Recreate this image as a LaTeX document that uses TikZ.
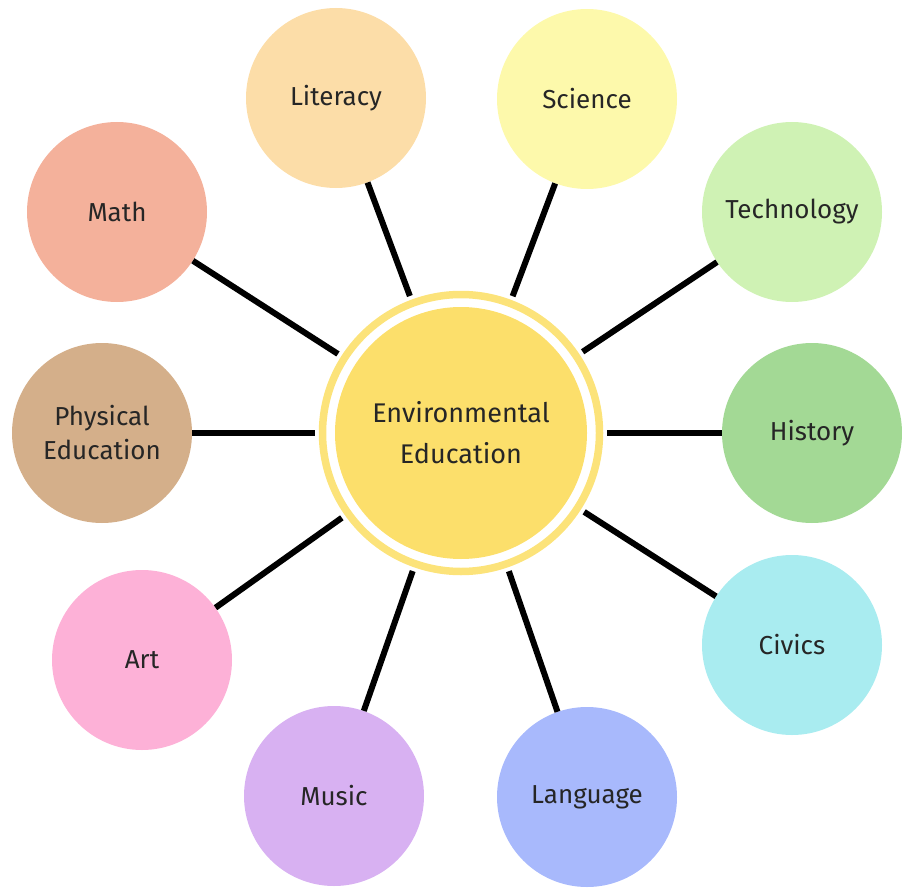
\documentclass[tikz,border=0pt]{standalone}
\usepackage{fontspec}
\setmainfont{Fira Sans}
\usepackage{xcolor}
\definecolor{eecol}{HTML}{FCDF6B}
\definecolor{ringcol}{HTML}{FCE37A}
\definecolor{litcol}{HTML}{FCDDA8}
\definecolor{scicol}{HTML}{FDF9AB}
\definecolor{mathcol}{HTML}{F4B19B}
\definecolor{techcol}{HTML}{CFF2B4}
\definecolor{pecol}{HTML}{D4AF8A}
\definecolor{histcol}{HTML}{A3D995}
\definecolor{artcol}{HTML}{FDB1D7}
\definecolor{civcol}{HTML}{A9ECF0}
\definecolor{muscol}{HTML}{D8B1F2}
\definecolor{langcol}{HTML}{A8B9FC}
\tikzset{
  topic/.style={circle, minimum size=180pt, inner sep=0pt, align=center,
    font=\fontsize{26}{34}\selectfont, text=black!85},
  spoke/.style={line width=6pt, shorten <=4pt}
}

\begin{document}
\begin{tikzpicture}[x=1pt, y=-1pt]
		\useasboundingbox (0,0) rectangle (902,888);

		%% Centre: disk and outer ring
		\node[circle, fill=eecol, minimum size=252pt, inner sep=0pt] (ee) at (461,433) {};
		\node[circle, draw=ringcol, line width=7.5pt, minimum size=277pt, inner sep=0pt] (ring) at (461,433) {};
		\node[align=center, font=\fontsize{27}{41}\selectfont, text=black!85] (eetext) at (ee.center)
			{Environmental\\Education};

		%% Subjects
		\node[topic, fill=litcol] (lit) at (336,98) {Literacy};
		\node[topic, fill=scicol] (sci) at (587,99) {Science};
		\node[topic, fill=mathcol] (math) at (117,212) {Math};
		\node[topic, fill=techcol] (tech) at (792,212) {Technology};
		\node[topic, fill=pecol] (pe) at (102,433) {Physical\\Education};
		\node[topic, fill=histcol] (hist) at (812,433) {History};
		\node[topic, fill=artcol] (art) at (142,660) {Art};
		\node[topic, fill=civcol] (civ) at (792,645) {Civics};
		\node[topic, fill=muscol] (mus) at (334,796) {Music};
		\node[topic, fill=langcol] (lang) at (587,797) {Language};

		%% Spokes
		\foreach \t in {lit,sci,math,tech,pe,hist,art,civ,mus,lang}
			\draw[spoke] (ring) -- (\t);
	\end{tikzpicture}
\end{document}
